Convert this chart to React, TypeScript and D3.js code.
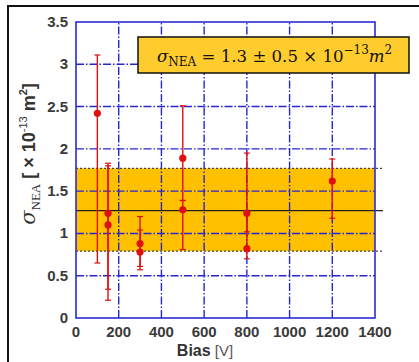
import React, { useEffect, useRef } from 'react';
import * as d3 from 'd3';

// measurements: bias [V], value, error low, error high
const biasValues = [100, 150, 150, 300, 300, 500, 500, 800, 800, 1200];
const sigmaValues = [2.42, 1.24, 1.1, 0.88, 0.78, 1.89, 1.28, 1.24, 0.82, 1.62];
const errLow = [0.65, 0.34, 0.21, 0.61, 0.57, 1.39, 0.81, 1.02, 0.7, 1.18];
const errHigh = [3.11, 1.8, 1.83, 1.2, 1.04, 2.51, 1.39, 1.95, 1.24, 1.88];

const xTicks = [0, 200, 400, 600, 800, 1000, 1200, 1400];
const yTicks = [0, 0.5, 1, 1.5, 2, 2.5, 3, 3.5];

const bandMean = 1.27;
const bandLow = 0.79;
const bandHigh = 1.77;

const App = () => {
  const svgRef = useRef<SVGSVGElement>(null);
  const width = 419;
  const height = 362;

  useEffect(() => {
    const svg = d3.select(svgRef.current);
    svg.selectAll('*').remove();

    const margin = { left: 76, right: 44, top: 22, bottom: 44 };
    const x = d3.scaleLinear().domain([0, 1400]).range([margin.left, width - margin.right]);
    const y = d3.scaleLinear().domain([0, 3.5]).range([height - margin.bottom, margin.top]);
    const bandRight = x(1400) + 8;

    // outer frame
    svg.append('path')
      .attr('d', `M8,${height} L8,6 L${width},6`)
      .attr('fill', 'none')
      .attr('stroke', '#111')
      .attr('stroke-width', 2);

    // band
    svg.append('rect')
      .attr('x', x(0))
      .attr('y', y(bandHigh))
      .attr('width', x(1400) - x(0))
      .attr('height', y(bandLow) - y(bandHigh))
      .attr('fill', '#ffc000');

    // grid
    const gridColor = '#2626d0';
    svg.append('g')
      .selectAll('line')
      .data(xTicks.slice(1, -1))
      .join('line')
      .attr('x1', (d) => x(d))
      .attr('x2', (d) => x(d))
      .attr('y1', y(0))
      .attr('y2', y(3.5))
      .attr('stroke', gridColor)
      .attr('stroke-width', 1.4)
      .attr('stroke-dasharray', '8,2,1.5,2');

    svg.append('g')
      .selectAll('line')
      .data(yTicks.slice(1, -1))
      .join('line')
      .attr('x1', x(0))
      .attr('x2', x(1400))
      .attr('y1', (d) => y(d))
      .attr('y2', (d) => y(d))
      .attr('stroke', gridColor)
      .attr('stroke-width', 1.4)
      .attr('stroke-dasharray', '8,2,1.5,2');

    // band edges and mean
    [bandLow, bandHigh].forEach((v) => {
      svg.append('line')
        .attr('x1', x(0))
        .attr('x2', bandRight)
        .attr('y1', y(v))
        .attr('y2', y(v))
        .attr('stroke', '#444')
        .attr('stroke-width', 1.3)
        .attr('stroke-dasharray', '2,2');
    });
    svg.append('line')
      .attr('x1', x(0))
      .attr('x2', bandRight)
      .attr('y1', y(bandMean))
      .attr('y2', y(bandMean))
      .attr('stroke', '#222')
      .attr('stroke-width', 1.4);

    // plot border
    svg.append('rect')
      .attr('x', x(0))
      .attr('y', y(3.5))
      .attr('width', x(1400) - x(0))
      .attr('height', y(0) - y(3.5))
      .attr('fill', 'none')
      .attr('stroke', '#2a2ad8')
      .attr('stroke-width', 1.6);

    // error bars
    const red = '#e01010';
    const pts = svg.append('g');
    biasValues.forEach((b, i) => {
      const cx = x(b);
      pts.append('line')
        .attr('x1', cx).attr('x2', cx)
        .attr('y1', y(errLow[i])).attr('y2', y(errHigh[i]))
        .attr('stroke', red).attr('stroke-width', 1.4);
      [errLow[i], errHigh[i]].forEach((v) => {
        pts.append('line')
          .attr('x1', cx - 3).attr('x2', cx + 3)
          .attr('y1', y(v)).attr('y2', y(v))
          .attr('stroke', red).attr('stroke-width', 1.2);
      });
      pts.append('circle')
        .attr('cx', cx)
        .attr('cy', y(sigmaValues[i]))
        .attr('r', 3.6)
        .attr('fill', red);
    });

    // tick labels
    const font = 'Liberation Sans, Arial, sans-serif';
    svg.append('g')
      .selectAll('text')
      .data(xTicks)
      .join('text')
      .attr('x', (d) => x(d))
      .attr('y', y(0) + 19)
      .attr('text-anchor', 'middle')
      .attr('font-family', font)
      .attr('font-size', 15)
      .attr('font-weight', 600)
      .attr('fill', '#3a3a3a')
      .text((d) => d);

    svg.append('g')
      .selectAll('text')
      .data(yTicks)
      .join('text')
      .attr('x', x(0) - 8)
      .attr('y', (d) => y(d) + 5)
      .attr('text-anchor', 'end')
      .attr('font-family', font)
      .attr('font-size', 15)
      .attr('font-weight', 600)
      .attr('fill', '#3a3a3a')
      .text((d) => d);

    // x title
    const xt = svg.append('text')
      .attr('x', 205)
      .attr('y', 356)
      .attr('text-anchor', 'middle')
      .attr('font-family', font)
      .attr('font-size', 16)
      .attr('fill', '#333');
    xt.append('tspan').attr('font-weight', 600).text('Bias');
    xt.append('tspan').attr('font-size', 15).attr('fill', '#555').text(' [V]');

    // y title
    const yt = svg.append('text')
      .attr('transform', `translate(35,${154}) rotate(-90)`)
      .attr('text-anchor', 'middle')
      .attr('font-family', font)
      .attr('font-size', 18)
      .attr('font-weight', 600)
      .attr('fill', '#333');
    yt.append('tspan').attr('font-family', 'DejaVu Serif, serif').attr('font-style', 'italic').attr('font-weight', 400).attr('font-size', 21).text('σ');
    yt.append('tspan').attr('font-family', 'Liberation Serif, serif').attr('font-weight', 400).attr('font-size', 13).attr('dy', 5).text('NEA');
    yt.append('tspan').attr('dy', -5).text(' [ × 10');
    yt.append('tspan').attr('font-size', 11).attr('font-weight', 400).attr('dy', -8).text('-13');
    yt.append('tspan').attr('dy', 8).text('  m');
    yt.append('tspan').attr('font-size', 11).attr('dy', -8).text('2');
    yt.append('tspan').attr('dy', 8).text(']');

    // annotation box
    svg.append('rect')
      .attr('x', 138)
      .attr('y', 37)
      .attr('width', 271)
      .attr('height', 36)
      .attr('fill', '#ffcc2e')
      .attr('stroke', '#111')
      .attr('stroke-width', 1.5);

    const at = svg.append('text')
      .attr('x', 157)
      .attr('y', 62)
      .attr('font-family', 'DejaVu Serif, Liberation Serif, serif')
      .attr('font-size', 16.6)
      .attr('fill', '#111');
    at.append('tspan').attr('font-style', 'italic').text('σ');
    at.append('tspan').attr('font-size', 12).attr('dy', 4).text('NEA');
    at.append('tspan').attr('dy', -4).text(' = 1.3 ± 0.5 × 10');
    at.append('tspan').attr('font-size', 12).attr('dy', -8).text('−13');
    at.append('tspan').attr('dy', 8).attr('font-style', 'italic').text('m');
    at.append('tspan').attr('font-size', 12).attr('dy', -8).text('2');
  }, []);

  return <svg ref={svgRef} width={width} height={height} style={{ position: 'absolute', left: 0, top: 0 }} />;
};

export default App;
